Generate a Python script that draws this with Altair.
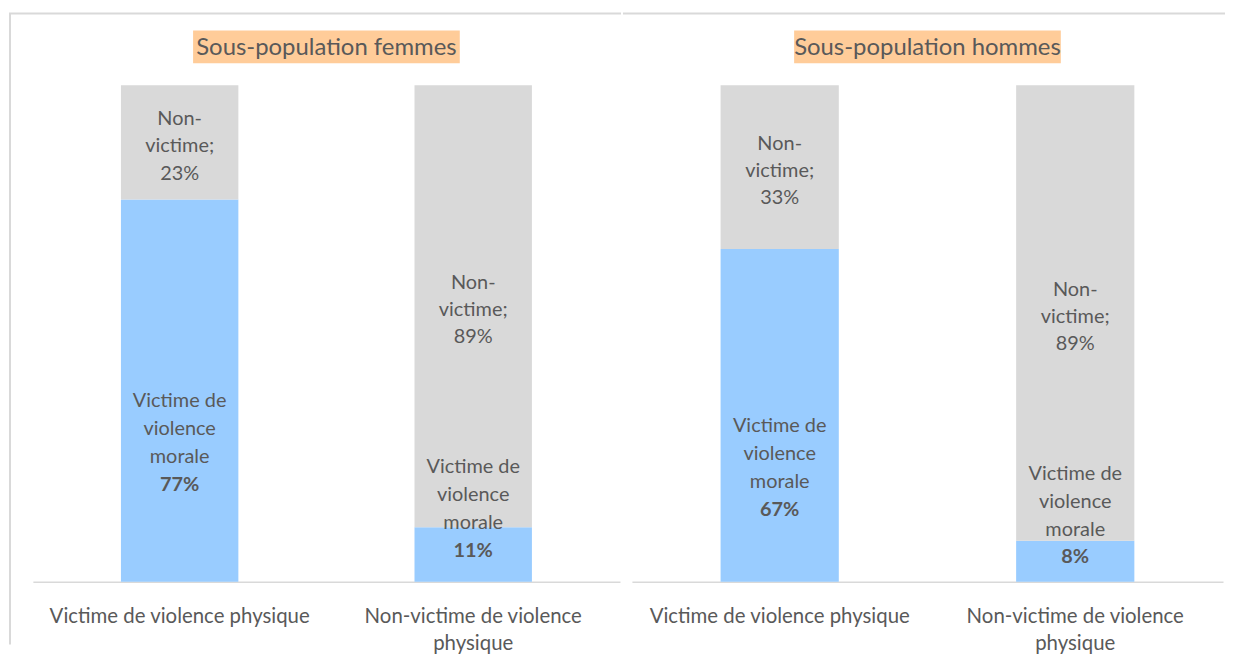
import altair as alt
import pandas as pd

# ---- data ----
panels = ["Sous-population femmes", "Sous-population hommes"]
categories = ["Victime de violence physique", "Non-victime de violence physique"]
series = ["Victime de violence morale", "Non-victime"]
femmes_victime = [77, 11]
femmes_non = [23, 89]
hommes_victime = [67, 8]
hommes_non = [33, 89]
blue_label_lines = "Victime de\nviolence\nmorale"
grey_label_prefix = "Non-\nvictime;\n"

BLUE = "#99CCFF"
GREY = "#D9D9D9"
PEACH = "#FFCC99"
TXT = "#595959"
FRAME = "#D9D9D9"
FONT = "Lato"
FS = 20
LH = 28
DY = 4

W_LEFT, W_RIGHT, H = 590, 594, 499


def build_df(victime, non):
    rows = []
    for i, cat in enumerate(categories):
        rows.append({"cat": cat, "series": series[0], "order": 0, "value": victime[i],
                     "pct": f"{victime[i]}%", "bl": blue_label_lines})
        rows.append({"cat": cat, "series": series[1], "order": 1, "value": non[i],
                     "pct": f"{non[i]}%", "glabel": grey_label_prefix + f"{non[i]}%"})
    return pd.DataFrame(rows)


def panel(title, victime, non, width, is_left):
    df = build_df(victime, non)
    base = alt.Chart(df).transform_stack(
        stack="value", groupby=["cat"], as_=["v0", "v1"], offset="normalize",
        sort=[alt.SortField("order", order="ascending")]
    )
    xenc = alt.X(
        "cat:N", sort=categories,
        scale=alt.Scale(paddingInner=0.6, paddingOuter=0.3),
        axis=alt.Axis(
            title=None, labelAngle=0, ticks=False, domainColor=FRAME, domainWidth=1.5,
            labelColor=TXT, labelFontSize=20.5, labelFont=FONT, labelPadding=25,
            labelLimit=0, labelLineHeight=27,
            labelExpr="datum.value == 'Non-victime de violence physique' ? ['Non-victime de violence', 'physique'] : datum.label",
        ),
    )
    yscale = alt.Scale(domain=[0, 1], nice=False, zero=False)
    bars = base.mark_bar().encode(
        x=xenc,
        y=alt.Y("v0:Q", scale=yscale, axis=None),
        y2="v1:Q",
        color=alt.Color("series:N", scale=alt.Scale(domain=series, range=[BLUE, GREY]), legend=None),
    )
    lab = base.transform_calculate(
        mid="(datum.v0 + datum.v1) / 2",
        frac="datum.v1 - datum.v0",
    ).transform_calculate(
        ly="datum.order == 0 ? (datum.frac >= 0.3 ? datum.mid - 0.098 : datum.mid + 0.1) : datum.mid"
    )
    pos = dict(x=alt.X("cat:N", sort=categories), y=alt.Y("ly:Q", scale=yscale))
    grey_txt = lab.transform_filter("datum.order == 1").mark_text(
        font=FONT, fontSize=FS, color=TXT, lineBreak="\n", lineHeight=27.5, baseline="middle", dy=-27.5 + DY
    ).encode(text="glabel:N", **pos)
    blue_txt = lab.transform_filter("datum.order == 0").mark_text(
        font=FONT, fontSize=FS, color=TXT, lineBreak="\n", lineHeight=LH, baseline="middle", dy=-1.5 * LH + DY
    ).encode(text="bl:N", **pos)
    blue_pct = lab.transform_filter("datum.order == 0").mark_text(
        font=FONT, fontSize=FS, color=TXT, fontWeight="bold", baseline="middle", dy=1.5 * LH + DY
    ).encode(text="pct:N", **pos)

    tdf = alt.Chart(pd.DataFrame({"t": [title]}))
    cx = width / 2
    half = 134
    tbox = tdf.mark_rect(color=PEACH).encode(
        x=alt.value(cx - half), x2=alt.value(cx + half), y=alt.value(-55), y2=alt.value(-22)
    )
    ttxt = tdf.mark_text(font=FONT, fontSize=24, color=TXT, baseline="middle").encode(
        x=alt.value(cx), y=alt.value(-37), text="t:N"
    )
    layers = [bars, grey_txt, blue_txt, blue_pct, tbox, ttxt]
    if is_left:
        top = tdf.mark_rule(color=FRAME, strokeWidth=2, strokeCap="square").encode(
            x=alt.value(-23), x2=alt.value(width), y=alt.value(-72)
        )
        side = tdf.mark_rule(color=FRAME, strokeWidth=2).encode(
            x=alt.value(-23), y=alt.value(-72), y2=alt.value(562)
        )
        layers = [top, side] + layers
    else:
        top = tdf.mark_rule(color=FRAME, strokeWidth=2, strokeCap="square").encode(
            x=alt.value(-8), x2=alt.value(width + 1), y=alt.value(-72)
        )
        layers = [top] + layers
    return alt.layer(*layers).properties(width=width, height=H)


left = panel(panels[0], femmes_victime, femmes_non, W_LEFT, True)
right = panel(panels[1], hommes_victime, hommes_non, W_RIGHT, False)

chart = alt.hconcat(left, right, spacing=0).properties(
    padding={"left": 0, "top": 2, "right": 0, "bottom": 0}
).configure(background="white").configure_view(strokeWidth=0, stroke="transparent")

chart.save("out.html", embed_options={"renderer": "svg", "actions": False})
